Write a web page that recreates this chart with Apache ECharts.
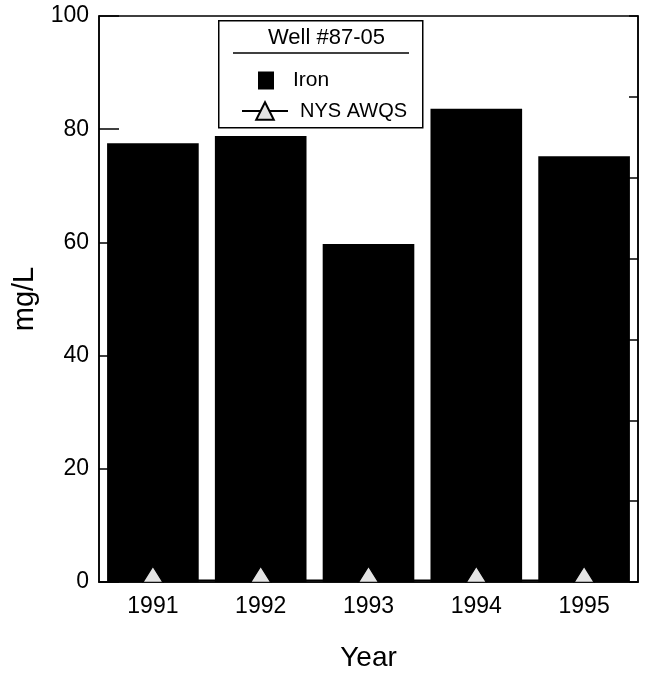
<!DOCTYPE html>
<html>
<head>
<meta charset="utf-8">
<script src="https://cdn.jsdelivr.net/npm/echarts@6/dist/echarts.min.js"></script>
<style>
html,body{margin:0;padding:0;background:#fff;}
#c{width:654px;height:677px;}
</style>
</head>
<body>
<div id="c"></div>
<script>
var years = ['1991', '1992', '1993', '1994', '1995'];
var iron = [77.5, 78.8, 59.7, 83.6, 75.2];
var nysAwqs = [0.3, 0.3, 0.3, 0.3, 0.3];
var yTicks = [0, 20, 40, 60, 80, 100];

var FONT = "'Liberation Sans Narrow', 'Liberation Sans', Arial, sans-serif";
var chart = echarts.init(document.getElementById('c'), null, {renderer: 'canvas'});
chart.setOption({
  backgroundColor: '#fff',
  animation: false,
  textStyle: {fontFamily: FONT, color: '#000'},
  grid: {left: 99, right: 16, top: 16, bottom: 95, show: true, borderColor: '#000', borderWidth: 1.5, backgroundColor: 'transparent'},
  xAxis: {
    type: 'category', data: years,
    axisLine: {lineStyle: {color: '#000', width: 1.5}},
    axisTick: {show: false},
    axisLabel: {fontSize: 23, color: '#000', margin: 13, fontFamily: FONT},
    name: 'Year', nameLocation: 'middle', nameGap: 62,
    nameTextStyle: {fontSize: 28, color: '#000', fontFamily: FONT}
  },
  yAxis: [{
    type: 'value', min: yTicks[0], max: yTicks[yTicks.length - 1], interval: 20,
    axisLine: {show: true, lineStyle: {color: '#000', width: 1.5}},
    axisTick: {show: true, inside: true, length: 20, lineStyle: {color: '#000', width: 1.5}},
    splitLine: {show: false},
    axisLabel: {fontSize: 23, color: '#000', margin: 10, fontFamily: FONT},
    name: 'mg/L', nameLocation: 'middle', nameGap: 52,
    nameTextStyle: {fontSize: 29, color: '#000', fontFamily: FONT}
  }, {
    type: 'value', position: 'right', min: 0, max: 7, interval: 1,
    axisLine: {show: true, lineStyle: {color: '#000', width: 1.5}},
    axisTick: {show: true, inside: true, length: 9, lineStyle: {color: '#000', width: 1.5}},
    splitLine: {show: false},
    axisLabel: {show: false}
  }],
  legend: [{
    data: [{name: 'Iron', icon: 'rect'}],
    orient: 'vertical', left: 253, top: 65,
    itemWidth: 16, itemHeight: 18,
    textStyle: {fontSize: 21, color: '#000', fontFamily: FONT, padding: [0, 0, 0, 14]},
    selectedMode: false
  }, {
    data: ['NYS AWQS'],
    orient: 'vertical', left: 236, top: 96,
    itemWidth: 46, itemHeight: 22,
    textStyle: {fontSize: 20, color: '#000', fontFamily: FONT, padding: [0, 0, 0, 7]},
    selectedMode: false
  }],
  graphic: [{
    type: 'rect', left: 218, top: 20, z: 1,
    shape: {width: 204, height: 107},
    style: {fill: '#fff', stroke: '#000', lineWidth: 1.5}
  }, {
    type: 'text', left: 268, top: 27, z: 2,
    style: {text: 'Well #87-05', font: "22px " + FONT, fill: '#000'}
  }, {
    type: 'line', z: 2,
    shape: {x1: 233, y1: 53, x2: 409, y2: 53},
    style: {stroke: '#000', lineWidth: 1.5}
  }],
  series: [{
    name: 'Iron', type: 'bar', data: iron, barWidth: '85%',
    itemStyle: {color: '#000'}, z: 2
  }, {
    name: 'NYS AWQS', type: 'line', data: nysAwqs,
    lineStyle: {color: '#000', width: 1.5},
    symbol: 'triangle', symbolSize: [20, 16], symbolOffset: [0, -6],
    itemStyle: {color: '#e4e4e4', borderColor: '#000', borderWidth: 1.2},
    z: 3
  }]
});
</script>
</body>
</html>
